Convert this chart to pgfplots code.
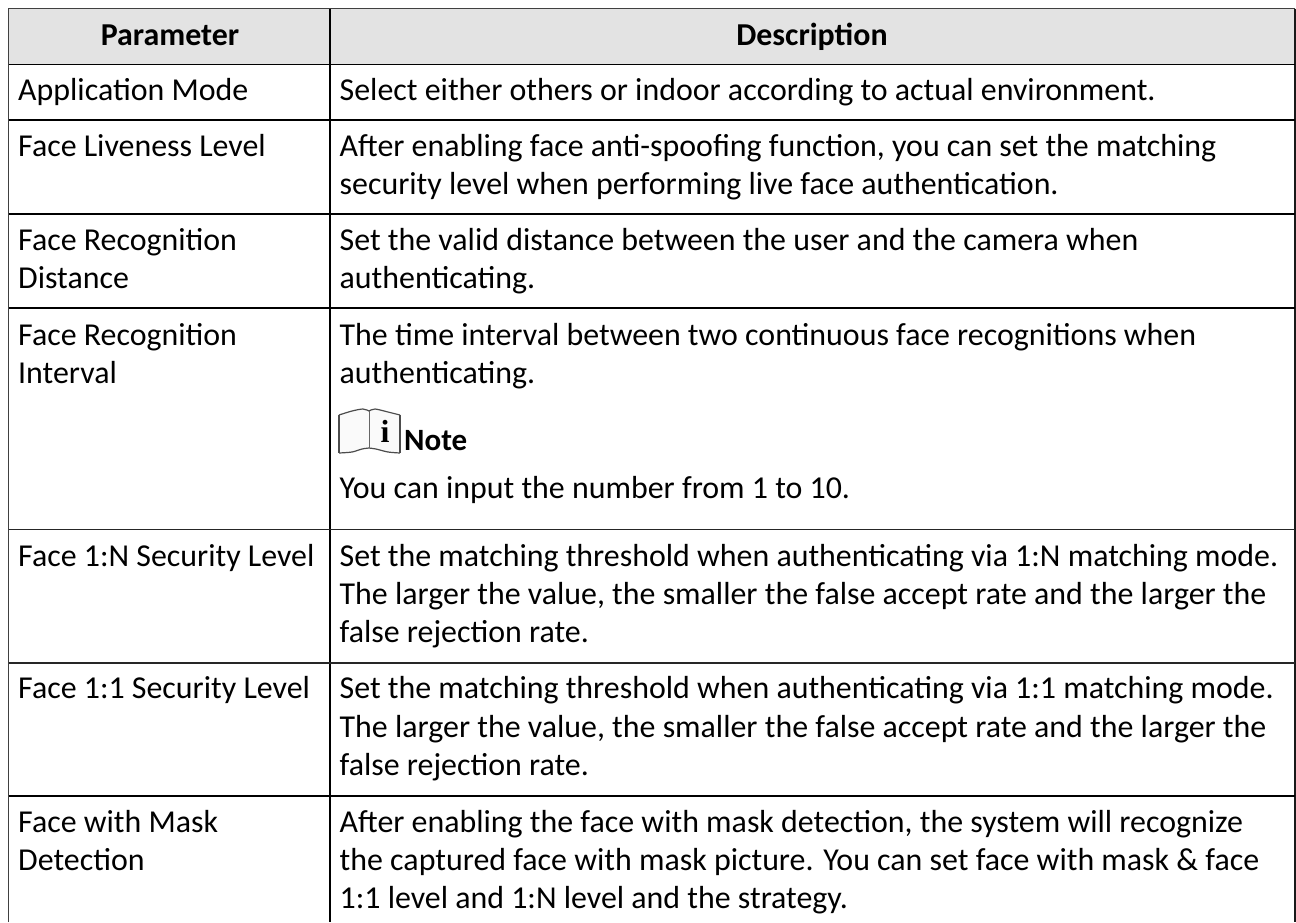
\documentclass[border=0pt]{standalone}
\usepackage{pgfplots}
\pgfplotsset{compat=1.18}
\usepackage{fontspec}
\setmainfont{Carlito}
\newfontfamily\iconfont{Liberation Serif}
\newcommand{\T}[3]{\node[anchor=base west,inner sep=0pt,font=\fontsize{31.9}{36}\selectfont] at (axis cs:#1,#2) {#3};}
\newcommand{\B}[3]{\node[anchor=base,inner sep=0pt,font=\fontsize{31.9}{36}\selectfont\bfseries] at (axis cs:#1,#2) {#3};}
\begin{document}
\begin{tikzpicture}
\begin{axis}[scale only axis,width=1296pt,height=922pt,xmin=0,xmax=1296,ymin=0,ymax=922,y dir=reverse,hide axis]
\path[use as bounding box] (axis cs:0,0) rectangle (axis cs:1296,922);
\addplot[draw=none,fill=black!11] coordinates {(9,9) (1295,9) (1295,64) (9,64)} --cycle;
\addplot[black!75,line width=1.8pt] coordinates {(8.5,922) (8.5,8.5) (1295,8.5)};
\addplot[black!90,line width=1.4pt] coordinates {(1295,8.5) (1295,922)};
\addplot[black,line width=1.4pt] coordinates {(330,8.5) (330,922)};
\addplot[black,line width=1.4pt] coordinates {(8.5,64.5) (1295,64.5)};
\addplot[black,line width=1.4pt] coordinates {(8.5,120) (1295,120)};
\addplot[black,line width=1.4pt] coordinates {(8.5,214) (1295,214)};
\addplot[black,line width=1.4pt] coordinates {(8.5,308) (1295,308)};
\addplot[black!85,line width=1.4pt] coordinates {(8.5,529.5) (1295,529.5)};
\addplot[black!85,line width=1.4pt] coordinates {(8.5,663) (1295,663)};
\addplot[black,line width=1.4pt] coordinates {(8.5,796) (1295,796)};
% note icon
\addplot[draw=none,fill=black!2] coordinates {(339,415) (363,409) (369,411) (375,409) (400,415) (400,453) (385,452) (369,448) (350,453) (339,453)} --cycle;
\addplot[black!70,line width=1.2pt,smooth] coordinates {(339,415) (352,411) (363,409) (369,411)};
\addplot[black!70,line width=1.2pt,smooth] coordinates {(369,411) (375,409) (388,412) (400,415)};
\addplot[black!70,line width=1.2pt,smooth] coordinates {(339,453) (352,452) (362,449) (369,448)};
\addplot[black!70,line width=1.2pt,smooth] coordinates {(369,448) (376,449) (388,452) (400,453)};
\addplot[black!70,line width=1.2pt] coordinates {(339,415) (339,453)};
\addplot[black!70,line width=1.2pt] coordinates {(400,415) (400,453)};
\addplot[black!60,line width=1pt] coordinates {(369,411) (369,448)};
\node[anchor=base,inner sep=0pt,font=\fontsize{32}{32}\selectfont\iconfont\bfseries] at (axis cs:385,442) {i};
\B{170}{45}{Parameter}
\B{812}{45}{Description}
\T{18}{100}{Application Mode}
\T{18}{156}{Face Liveness Level}
\T{18}{250}{Face Recognition}
\T{18}{288}{Distance}
\T{18}{345}{Face Recognition}
\T{18}{383}{Interval}
\T{18}{566}{Face 1:N Security Level}
\T{18}{698}{Face 1:1 Security Level}
\T{18}{832}{Face with Mask}
\T{18}{870}{Detection}
\T{339.5}{100}{Select either others or indoor according to actual environment.}
\T{339.5}{156}{After enabling face anti-spoofing function, you can set the matching}
\T{339.5}{194}{security level when performing live face authentication.}
\T{339.5}{250}{Set the valid distance between the user and the camera when}
\T{339.5}{288}{authenticating.}
\T{339.5}{345}{The time interval between two continuous face recognitions when}
\T{339.5}{383}{authenticating.}
\node[anchor=base west,inner sep=0pt,font=\fontsize{31}{36}\selectfont\bfseries] at (axis cs:404,450) {Note};
\T{339.5}{498}{You can input the number from 1 to 10.}
\T{339.5}{566}{Set the matching threshold when authenticating via 1:N matching mode.}
\T{339.5}{604.5}{The larger the value, the smaller the false accept rate and the larger the}
\T{339.5}{642}{false rejection rate.}
\T{339.5}{698}{Set the matching threshold when authenticating via 1:1 matching mode.}
\T{339.5}{737}{The larger the value, the smaller the false accept rate and the larger the}
\T{339.5}{775}{false rejection rate.}
\T{339.5}{832}{After enabling the face with mask detection, the system will recognize}
\T{339.5}{870}{the captured face with mask picture. You can set face with mask \& face}
\T{339.5}{908}{1:1 level and 1:N level and the strategy.}
\end{axis}
\end{tikzpicture}
\end{document}
